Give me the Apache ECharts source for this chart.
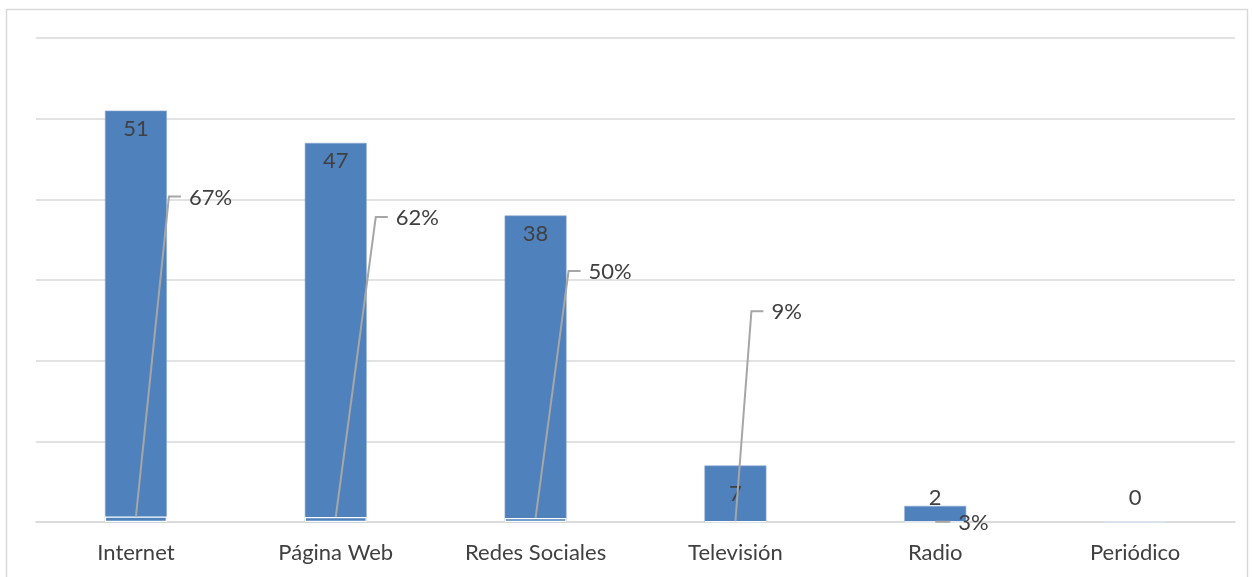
<!DOCTYPE html>
<html>
<head>
<meta charset="utf-8">
<script src="https://cdn.jsdelivr.net/npm/echarts@6/dist/echarts.min.js"></script>
<style>
  html, body { margin: 0; padding: 0; background: #ffffff; }
  #chart { width: 1252px; height: 577px; }
</style>
</head>
<body>
<div id="chart"></div>
<script>
// Medios de información: número de respuestas y porcentaje sobre el total
const categories = ['Internet', 'Página Web', 'Redes Sociales', 'Televisión', 'Radio', 'Periódico'];
const respuestas = [51, 47, 38, 7, 2, 0];
const porcentajes = [0.67, 0.62, 0.50, 0.09, 0.03, 0];
const yMin = 0;
const yMax = 60;
const yStep = 10;

// Presentation settings (kept apart from the data)
const BLUE = '#4F81BD';
const TEXT = '#404040';
const GRID = '#D9D9D9';
const LEADER = '#A6A6A6';
const FONT = 'Lato, "Open Sans", sans-serif';
const FONT_SIZE = 22;

// where each count label sits relative to its bar
const countLabelPlacement = [
  { position: 'insideTop', distance: 7 },
  { position: 'insideTop', distance: 7 },
  { position: 'insideTop', distance: 7 },
  { position: 'inside', distance: 0 },
  { position: 'top', distance: -3 },
  { position: 'top', distance: 13 }
];
// callout offsets (px) for the percentage labels, from the top of the small bar
const pctCallouts = [
  { dx: 33, dy: -320 },
  { dx: 40, dy: -300 },
  { dx: 33, dy: -247 },
  { dx: 16, dy: -210 },
  { dx: 3, dy: 0 },
  null
];

const chart = echarts.init(document.getElementById('chart'), null, { renderer: 'canvas' });

const option = {
  animation: false,
  backgroundColor: '#ffffff',
  textStyle: { fontFamily: FONT },
  graphic: [{
    type: 'rect',
    silent: true,
    z: -10,
    shape: { x: 6.5, y: 9.5, width: 1241, height: 620 },
    style: { fill: 'none', stroke: GRID, lineWidth: 1.5 }
  }],
  grid: { left: 36, right: 17, top: 38, bottom: 55, containLabel: false },
  xAxis: {
    type: 'category',
    data: categories,
    axisTick: { show: false },
    axisLine: { show: true, lineStyle: { color: GRID, width: 1.5 } },
    axisLabel: { color: TEXT, fontSize: FONT_SIZE, fontFamily: FONT, margin: 20, interval: 0 }
  },
  yAxis: {
    type: 'value',
    min: yMin,
    max: yMax,
    interval: yStep,
    axisLabel: { show: false },
    axisLine: { show: false },
    axisTick: { show: false },
    splitLine: { lineStyle: { color: GRID, width: 1.5 } }
  },
  series: [
    {
      name: 'Respuestas',
      type: 'bar',
      barWidth: '31%',
      barGap: '-100%',
      z: 2,
      itemStyle: { color: BLUE, borderColor: '#8EACD4', borderWidth: 0.6 },
      data: respuestas.map((v, i) => ({
        value: v,
        label: {
          show: true,
          position: countLabelPlacement[i].position,
          distance: countLabelPlacement[i].distance
        }
      })),
      label: { color: TEXT, fontSize: FONT_SIZE, fontFamily: FONT }
    },
    {
      name: 'Porcentaje',
      type: 'bar',
      barWidth: '31%',
      z: 3,
      itemStyle: { color: BLUE, borderColor: '#ffffff', borderWidth: 1.2 },
      data: porcentajes
    },
    {
      name: 'Porcentaje etiqueta',
      type: 'custom',
      z: 5,
      clip: false,
      silent: true,
      data: porcentajes.map((p, i) => [i, p]),
      renderItem: function (params, api) {
        const i = api.value(0);
        const p = api.value(1);
        const call = pctCallouts[i];
        if (!p || !call) return null;
        const foot = api.coord([i, p]);
        const ex = foot[0] + call.dx;
        const ey = foot[1] + call.dy;
        return {
          type: 'group',
          children: [
            {
              type: 'polyline',
              shape: { points: [[foot[0], foot[1]], [ex, ey], [ex + 12, ey]] },
              style: { stroke: LEADER, lineWidth: 2, fill: null }
            },
            {
              type: 'text',
              x: ex + 20,
              y: ey + 1,
              style: {
                text: Math.round(p * 100) + '%',
                fill: TEXT,
                font: FONT_SIZE + 'px ' + FONT,
                align: 'left',
                verticalAlign: 'middle'
              }
            }
          ]
        };
      }
    }
  ]
};

chart.setOption(option);
</script>
</body>
</html>
